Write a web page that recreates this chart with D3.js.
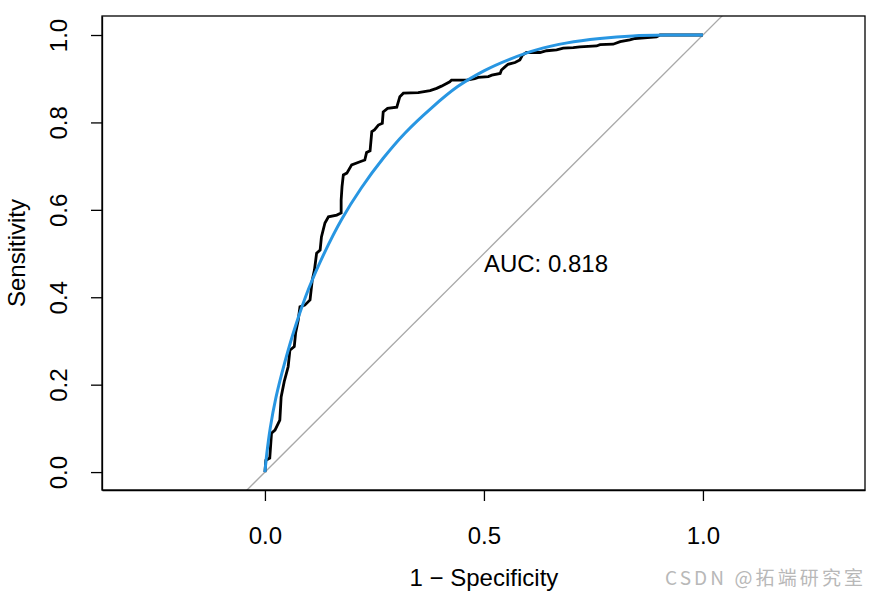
<!DOCTYPE html>
<html>
<head>
    <meta charset="utf-8">
    <title>ROC</title>
    <script src="https://cdn.jsdelivr.net/npm/d3@7"></script>
    <style>
        html, body { margin: 0; padding: 0; background: white; }
        svg { display: block; font-family: 'Liberation Sans', Arial, sans-serif; }
    </style>
</head>
<body>
<svg id="chart" width="875" height="597"></svg>
<script>
    var rocFpr = [0, 0.002, 0.011, 0.015, 0.023, 0.034, 0.037, 0.044, 0.053, 0.057, 0.067, 0.070, 0.076, 0.080,
        0.091, 0.103, 0.108, 0.113, 0.118, 0.126, 0.129, 0.137, 0.145, 0.164, 0.174, 0.174, 0.176, 0.179,
        0.187, 0.198, 0.217, 0.228, 0.232, 0.240, 0.244, 0.250, 0.259, 0.268, 0.270, 0.280, 0.301, 0.308,
        0.316, 0.350, 0.377, 0.392, 0.403, 0.422, 0.426, 0.461, 0.479, 0.487, 0.510, 0.518, 0.537, 0.540,
        0.548, 0.555, 0.571, 0.582, 0.588, 0.597, 0.628, 0.643, 0.666, 0.681, 0.704, 0.719, 0.757, 0.765,
        0.795, 0.811, 0.833, 0.845, 0.894, 0.902, 1.0];
    var rocTpr = [0, 0.027, 0.032, 0.089, 0.096, 0.119, 0.172, 0.207, 0.241, 0.279, 0.287, 0.318, 0.348, 0.378,
        0.382, 0.394, 0.439, 0.462, 0.501, 0.508, 0.538, 0.570, 0.584, 0.588, 0.593, 0.622, 0.653, 0.680,
        0.684, 0.703, 0.710, 0.714, 0.731, 0.735, 0.779, 0.783, 0.794, 0.798, 0.824, 0.832, 0.835, 0.859,
        0.867, 0.868, 0.873, 0.878, 0.883, 0.893, 0.897, 0.897, 0.900, 0.903, 0.905, 0.908, 0.912, 0.920,
        0.927, 0.933, 0.937, 0.943, 0.954, 0.960, 0.960, 0.964, 0.966, 0.970, 0.971, 0.973, 0.975, 0.978,
        0.979, 0.985, 0.989, 0.992, 0.996, 1.0, 1.0];

    // smoothed ROC
    var smoothFpr = [0, 0.004, 0.012, 0.025, 0.045, 0.070, 0.100, 0.135, 0.175, 0.220, 0.270, 0.320, 0.380,
        0.440, 0.500, 0.560, 0.620, 0.690, 0.765, 0.840, 0.920, 1.0];
    var smoothTpr = [0, 0.040, 0.100, 0.170, 0.250, 0.335, 0.420, 0.500, 0.578, 0.650, 0.718, 0.776, 0.833,
        0.882, 0.918, 0.945, 0.966, 0.982, 0.992, 0.998, 1.0, 1.0];

    var xTicks = [0, 0.5, 1];
    var yTicks = [0, 0.2, 0.4, 0.6, 0.8, 1];
    var aucLabel = "AUC: 0.818";
    var watermark = "CSDN @拓端研究室";

    var svg = d3.select("#chart"),
        box = {left: 102, right: 865, top: 16, bottom: 490},
        fontSize = 24;

    var x = d3.scaleLinear().domain([-0.372, 1.370]).range([box.left, box.right]);
    var y = d3.scaleLinear().domain([-0.041, 1.0435]).range([box.bottom, box.top]);

    svg.append("clipPath").attr("id", "clip")
        .append("rect")
        .attr("x", box.left).attr("y", box.top)
        .attr("width", box.right - box.left).attr("height", box.bottom - box.top);

    var plot = svg.append("g").attr("clip-path", "url(#clip)");

    // chance line
    plot.append("line")
        .attr("x1", x(-0.1)).attr("y1", y(-0.1))
        .attr("x2", x(1.1)).attr("y2", y(1.1))
        .attr("stroke", "#a9a9a9").attr("stroke-width", 1.3);

    var line = d3.line()
        .x(function(d) { return x(d[0]); })
        .y(function(d) { return y(d[1]); });

    plot.append("path")
        .datum(d3.zip(rocFpr, rocTpr))
        .attr("d", line)
        .attr("fill", "none").attr("stroke", "black")
        .attr("stroke-width", 2.8).attr("stroke-linejoin", "miter");

    plot.append("path")
        .datum(d3.zip(smoothFpr, smoothTpr))
        .attr("d", line.curve(d3.curveCatmullRom.alpha(0.5)))
        .attr("fill", "none").attr("stroke", "#2896e2")
        .attr("stroke-width", 3);

    svg.append("text")
        .attr("x", x(0.5)).attr("y", y(0.5) + 18.5)
        .attr("font-size", fontSize)
        .text(aucLabel);

    // box
    svg.append("rect")
        .attr("x", box.left).attr("y", box.top)
        .attr("width", box.right - box.left).attr("height", box.bottom - box.top)
        .attr("fill", "none").attr("stroke", "black").attr("stroke-width", 1.3);

    // axes, R style
    var xAxis = svg.append("g")
        .attr("transform", "translate(0," + box.bottom + ")")
        .call(d3.axisBottom(x).tickValues(xTicks).tickSize(11).tickSizeOuter(0)
            .tickFormat(d3.format(".1f")));
    xAxis.select(".domain").attr("stroke-width", 1.3);
    xAxis.selectAll(".tick line").attr("stroke-width", 1.3);
    xAxis.selectAll(".tick text")
        .attr("y", 54).attr("dy", 0)
        .attr("font-size", fontSize).attr("font-family", "'Liberation Sans', Arial, sans-serif")
        .attr("fill", "black");

    var yAxis = svg.append("g")
        .attr("transform", "translate(" + box.left + ",0)")
        .call(d3.axisLeft(y).tickValues(yTicks).tickSize(11).tickSizeOuter(0)
            .tickFormat(d3.format(".1f")));
    yAxis.select(".domain").attr("stroke-width", 1.3);
    yAxis.selectAll(".tick line").attr("stroke-width", 1.3);
    yAxis.selectAll(".tick text")
        .attr("x", null).attr("dy", 0)
        .attr("transform", "translate(-35,0) rotate(-90)")
        .attr("text-anchor", "middle")
        .attr("font-size", fontSize).attr("font-family", "'Liberation Sans', Arial, sans-serif")
        .attr("fill", "black");

    svg.append("text")
        .attr("x", x(0.5)).attr("y", 586)
        .attr("text-anchor", "middle").attr("font-size", fontSize)
        .text("1 \u2212 Specificity");

    svg.append("text")
        .attr("transform", "translate(25," + ((box.top + box.bottom) / 2) + ") rotate(-90)")
        .attr("text-anchor", "middle").attr("font-size", fontSize)
        .text("Sensitivity");

    // watermark
    svg.append("text")
        .attr("x", 665).attr("y", 585)
        .attr("font-size", 19).attr("fill", "#b8b8b8")
        .attr("textLength", 198).attr("lengthAdjust", "spacing")
        .attr("font-family", "'Noto Sans CJK SC', sans-serif")
        .text(watermark);
</script>
</body>
</html>
